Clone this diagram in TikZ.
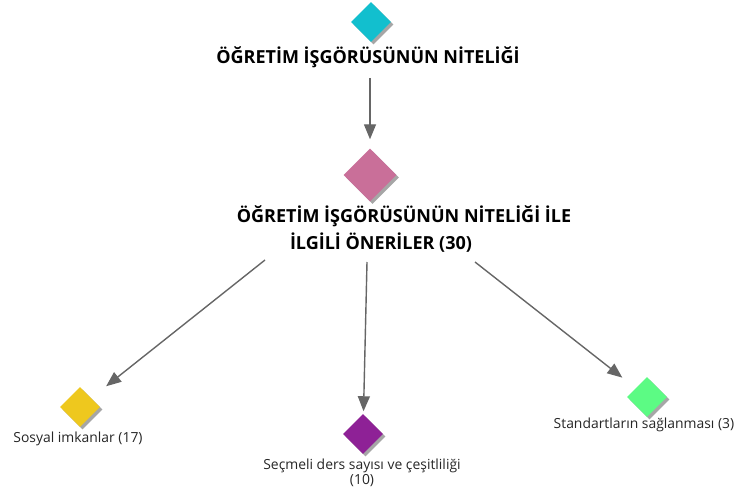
\documentclass[tikz,border=0pt]{standalone}
\usepackage{fontspec}
\setmainfont{Open Sans}
\usetikzlibrary{shapes.geometric,arrows.meta,shadows}
\definecolor{ccyan}{HTML}{12BFCE}
\definecolor{cpink}{HTML}{C96F99}
\definecolor{cyellow}{HTML}{EEC81E}
\definecolor{cpurple}{HTML}{8E2196}
\definecolor{cgreen}{HTML}{5CFB84}
\definecolor{cline}{HTML}{666666}
\tikzset{
  dia/.style={diamond,inner sep=0pt,minimum size=#1,draw=none,
    drop shadow={shadow xshift=2.5pt,shadow yshift=-2.5pt,fill=black!35,opacity=1}},
  titletext/.style={font=\fontsize{18}{27}\selectfont\bfseries,align=center,inner sep=0pt},
  labeltext/.style={font=\fontsize{13.9}{15}\selectfont,align=center,inner sep=0pt,text=black!85},
  conn/.style={draw=cline,line width=1.4pt,-{Triangle[length=15pt,width=12pt]}}
}
\begin{document}
\begin{tikzpicture}[x=1pt,y=-1pt]
\useasboundingbox (0,0) rectangle (739,495);
\node[dia=40,fill=ccyan] (top) at (371,22) {};
\node[titletext] (t1) at (368,57) {ÖĞRETİM İŞGÖRÜSÜNÜN NİTELİĞİ};
\node[dia=53,fill=cpink] (mid) at (370,175) {};
\node[titletext] (t2) at (404,228.5) {ÖĞRETİM İŞGÖRÜSÜNÜN NİTELİĞİ İLE\\İLGİLİ ÖNERİLER (30)\makebox[46pt]{}};
\node[dia=40,fill=cyellow] (yel) at (80,407) {};
\node[labeltext] (l1) at (78,439) {Sosyal imkanlar (17)};
\node[dia=40,fill=cpurple] (pur) at (363,434) {};
\node[labeltext] (l2) at (362,472.5) {Seçmeli ders sayısı ve çeşitliliği\\(10)};
\node[dia=40,fill=cgreen] (grn) at (647,397) {};
\node[labeltext] (l3) at (644,425) {Standartların sağlanması (3)};
\coordinate (s0) at (370,78);
\coordinate (s1) at (265,260);
\coordinate (s2) at (367,262);
\coordinate (s3) at (475,262);
\draw[conn,shorten >=9pt] (s0) -- (mid);
\draw[conn,shorten >=19pt] (s1) -- (yel);
\draw[conn,shorten >=3pt] (s2) -- (pur);
\draw[conn,shorten >=17pt] (s3) -- (grn);
\end{tikzpicture}
\end{document}
